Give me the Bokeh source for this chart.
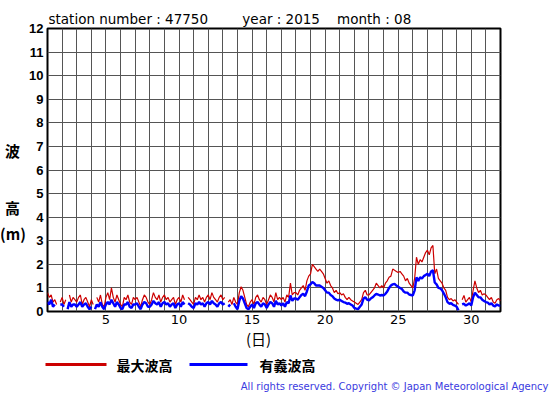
from bokeh.plotting import figure
from bokeh.models import Range1d, FixedTicker, Title
from bokeh.layouts import column, row
from bokeh.core.properties import value
from bokeh.embed import file_html
from bokeh.resources import INLINE

nan = float("nan")

# 3-hourly values, 1 Aug 00h .. 1 Sep 00h (m)
max_wave = [
    0.8, 0.6, 0.7, 0.4, 0.5, 0.3, nan, 0.4,
    0.6, 0.3, 0.5, nan, 0.7, 0.4, 0.6, 0.5,
    0.4, 0.6, 0.7, 0.3, 0.5, 0.6, 0.4, 0.2,
    0.5, 0.3, nan, 0.6, 0.4, 0.7, 0.3, 0.2,
    0.6, 0.8, 0.5, 1.0, 0.6, 0.4, 0.7, 0.5,
    0.3, 0.2, 0.6, 0.5, 0.7, 0.4, 0.3, 0.6,
    0.5, 0.6, 0.4, 0.2, 0.5, 0.7, 0.6, 0.4,
    0.3, 0.5, 0.8, 0.6, 0.5, 0.7, 0.4, 0.6,
    0.7, 0.5, 0.6, 0.4, 0.5, 0.6, 0.3, 0.5,
    0.6, 0.4, 0.7, 0.5, nan, 0.6, 0.5, 0.4,
    0.3, 0.6, 0.5, 0.7, 0.5, 0.6, 0.4, 0.6,
    0.7, 0.5, 0.8, 0.6, 0.5, 0.4, 0.6, 0.7,
    0.5, 0.6, nan, 0.4, 0.5, 0.3, 0.6, 0.4,
    0.3, 0.8, 1.05, 0.9, 0.6, 0.3, 0.2, 0.4,
    0.5, 0.3, 0.6, 0.7, 0.5, 0.4, 0.6, 0.5,
    0.3, 0.5, 0.7, 0.6, 0.4, 0.8, 0.5, 0.6,
    0.5, 0.6, 0.4, 0.7, 0.6, 1.2, 0.7, 0.8,
    0.8, 0.7, 0.9, 1.0, 1.1, 0.9, 1.3, 1.5,
    1.6, 2.0, 1.9, 1.8, 1.7, 1.8, 1.7, 1.6,
    1.4, 1.2, 1.3, 1.1, 1.0, 0.8, 0.9, 0.75,
    0.8, 0.7, 0.75, 0.6, 0.5, 0.6, 0.5, 0.45,
    0.4, 0.35, 0.3, 0.4, 0.5, 0.8, 0.9, 0.7,
    0.7, 0.8, 0.9, 1.0, 1.2, 1.1, 1.0, 1.1,
    1.0, 1.2, 1.3, 1.45, 1.5, 1.8, 1.75, 1.7,
    1.65, 1.7, 1.6, 1.5, 1.3, 1.4, 1.2, 1.1,
    1.0, 1.4, 2.3, 2.0, 2.2, 2.1, 2.3, 2.5,
    2.6, 2.4, 2.7, 2.8, 1.6, 1.8, 1.4, 1.3,
    1.2, 1.0, 0.9, 0.6, 0.5, 0.55, 0.45, 0.5,
    0.4, 0.3, nan, 0.5, 0.68, 0.4, 0.5, 0.6,
    0.4, 0.9, 1.3, 1.0, 0.8, 0.9, 0.7, 0.75,
    0.7, 0.6, 0.5, 0.6, 0.4, 0.35, 0.5, 0.55,
    0.45,
]
sig_wave = [
    0.4, 0.3, 0.5, 0.2, 0.3, nan, nan, 0.3,
    0.3, 0.2, nan, 0.1, 0.4, 0.2, 0.3, 0.3,
    0.2, 0.3, 0.4, 0.2, 0.3, 0.35, 0.2, 0.1,
    0.2, nan, 0.1, 0.3, 0.2, 0.4, 0.2, 0.1,
    0.3, 0.4, 0.3, 0.5, 0.35, 0.2, 0.4, 0.3,
    0.15, 0.1, 0.3, 0.3, 0.4, 0.2, 0.15, 0.3,
    0.3, 0.35, 0.2, 0.1, 0.3, 0.4, 0.35, 0.2,
    0.2, 0.3, 0.45, 0.35, 0.3, 0.4, 0.2, 0.35,
    0.4, 0.3, 0.35, 0.2, 0.3, 0.35, 0.15, 0.3,
    0.35, 0.2, 0.4, 0.3, nan, 0.35, 0.3, 0.2,
    0.15, 0.35, 0.3, 0.4, 0.3, 0.35, 0.2, 0.35,
    0.4, 0.3, 0.45, 0.35, 0.3, 0.2, 0.35, 0.4,
    0.3, 0.35, nan, 0.2, 0.3, nan, 0.35, 0.2,
    0.1, 0.45, 0.65, 0.55, 0.35, 0.15, 0.1, 0.2,
    0.3, 0.15, 0.35, 0.4, 0.3, 0.2, 0.35, 0.3,
    0.15, 0.3, 0.4, 0.35, 0.2, 0.45, 0.3, 0.35,
    0.25, 0.35, 0.2, 0.4, 0.35, 0.68, 0.45, 0.55,
    0.55, 0.5, 0.6, 0.7, 0.75, 0.65, 0.85, 1.1,
    1.15, 1.25, 1.2, 1.1, 1.1, 1.1, 1.05, 1.0,
    0.9, 0.8, 0.8, 0.7, 0.65, 0.55, 0.5, 0.47,
    0.5, 0.45, 0.4, 0.38, 0.33, 0.35, 0.3, 0.25,
    0.15, 0.12, 0.1, 0.2, 0.3, 0.55, 0.6, 0.5,
    0.47, 0.55, 0.6, 0.68, 0.75, 0.72, 0.68, 0.7,
    0.68, 0.75, 0.85, 1.0, 1.1, 1.15, 1.17, 1.1,
    1.05, 1.0, 0.95, 0.85, 0.8, 0.8, 0.72, 0.7,
    0.68, 0.9, 1.45, 1.3, 1.45, 1.4, 1.5, 1.55,
    1.6, 1.5, 1.7, 1.75, 1.23, 1.15, 1.0, 0.98,
    0.9, 0.76, 0.6, 0.4, 0.33, 0.35, 0.28, 0.25,
    0.2, 0.05, nan, 0.3, 0.33, 0.25, 0.3, 0.35,
    0.25, 0.6, 0.8, 0.7, 0.6, 0.6, 0.5, 0.45,
    0.4, 0.38, 0.3, 0.35, 0.25, 0.22, 0.3, 0.25,
    0.25,
]
step_hours = 3
day = [1 + i * step_hours / 24 for i in range(len(max_wave))]

x_ticks = [5, 10, 15, 20, 25, 30]
x_grid = list(range(1, 33))
y_ticks = list(range(0, 13))

NB = "\u00a0"
title_text = "station number : 47750" + NB * 8 + "year : 2015" + NB * 4 + "month : 08"
y_label_parts = ["波", "高", "(m)"]
x_label = "(日)"
legend_max = "最大波高"
legend_sig = "有義波高"
copyright_text = "All rights reserved. Copyright \u00a9 Japan Meteorological Agency"

RED = "#cc0000"
BLUE = "#0000ff"
W = 555
LW = 26
MAIN_H = 329


def blank_fig(width, height, x0, x1, ytop, ybot):
    f = figure(width=width, height=height, x_range=Range1d(x0, x1), y_range=Range1d(ybot, ytop),
               output_backend="svg", toolbar_location=None, x_axis_type=None, y_axis_type=None,
               min_border=0)
    f.outline_line_color = None
    f.grid.visible = False
    f.background_fill_color = "white"
    f.border_fill_color = "white"
    return f


def put(f, x, y, text, align="left", font="DejaVu Sans", size="13.5px", style="normal", color="black"):
    f.text(x=[x], y=[y], text=[text], text_align=align, text_baseline="middle",
           text_font=value(font), text_font_size=size, text_font_style=style, text_color=color)


# --- y label strip (window y 0..329) ---
ylab = blank_fig(LW, MAIN_H, 0, LW, 0, MAIN_H)
put(ylab, 12, 142, y_label_parts[0], align="center", font="Noto Sans CJK JP", size="15px", style="bold")
put(ylab, 12, 208, y_label_parts[1], align="center", font="Noto Sans CJK JP", size="15px", style="bold")
put(ylab, 12.5, 238, y_label_parts[2], align="center", font="Noto Sans CJK JP", size="15px", style="bold")

# --- main chart ---
p = figure(width=W - LW, height=MAIN_H, x_range=Range1d(1, 32), y_range=Range1d(0, 12),
           output_backend="svg", toolbar_location=None,
           min_border_left=20, min_border_right=55, min_border_top=28, min_border_bottom=18)
p.title = Title(text=title_text, align="left", text_font="DejaVu Sans", text_font_size="13.5px",
                text_font_style="normal", text_color="black", standoff=3, offset=1)
p.background_fill_color = "white"
p.border_fill_color = "white"
p.outline_line_color = "black"
p.outline_line_width = 2

p.xaxis.ticker = FixedTicker(ticks=x_ticks)
p.yaxis.ticker = FixedTicker(ticks=y_ticks)
p.xgrid.ticker = FixedTicker(ticks=x_grid)
p.ygrid.ticker = FixedTicker(ticks=y_ticks)
for g in (p.xgrid, p.ygrid):
    g.grid_line_color = "#555555"
    g.grid_line_width = 1
    g.grid_line_alpha = 1

for ax in (p.xaxis, p.yaxis):
    ax.axis_line_color = None
    ax.major_tick_line_color = None
    ax.minor_tick_line_color = None
    ax.major_tick_out = 0
    ax.major_tick_in = 0
    ax.minor_tick_out = 0
    ax.minor_tick_in = 0
    ax.major_label_text_color = "black"

p.xaxis.major_label_text_font = "DejaVu Sans"
p.xaxis.major_label_text_font_size = "13px"
p.xaxis.major_label_standoff = 3
p.yaxis.major_label_text_font = "Liberation Sans"
p.yaxis.major_label_text_font_style = "bold"
p.yaxis.major_label_text_font_size = "13px"
p.yaxis.major_label_standoff = 4

p.line(day, max_wave, line_color=RED, line_width=1.2)
p.line(day, sig_wave, line_color=BLUE, line_width=2.4)

# --- bottom strip: x label, legend, copyright (window y 329..395) ---
bot = blank_fig(W, 66, 0, W, 329, 395)
put(bot, 258, 338, x_label, align="center", font="Noto Sans CJK JP", size="15px")
bot.line(x=[45, 106], y=[364, 364], line_color=RED, line_width=3)
put(bot, 116, 364, legend_max, font="Noto Sans CJK JP", size="14px", style="bold")
bot.line(x=[189, 247], y=[364, 364], line_color=BLUE, line_width=3)
put(bot, 259, 364, legend_sig, font="Noto Sans CJK JP", size="14px", style="bold")
put(bot, 548, 386, copyright_text, align="right", font="DejaVu Sans", size="10px", color="#3a3ae0")

layout = column(row(ylab, p), bot)
open("out.html", "w").write(file_html(layout, INLINE))
